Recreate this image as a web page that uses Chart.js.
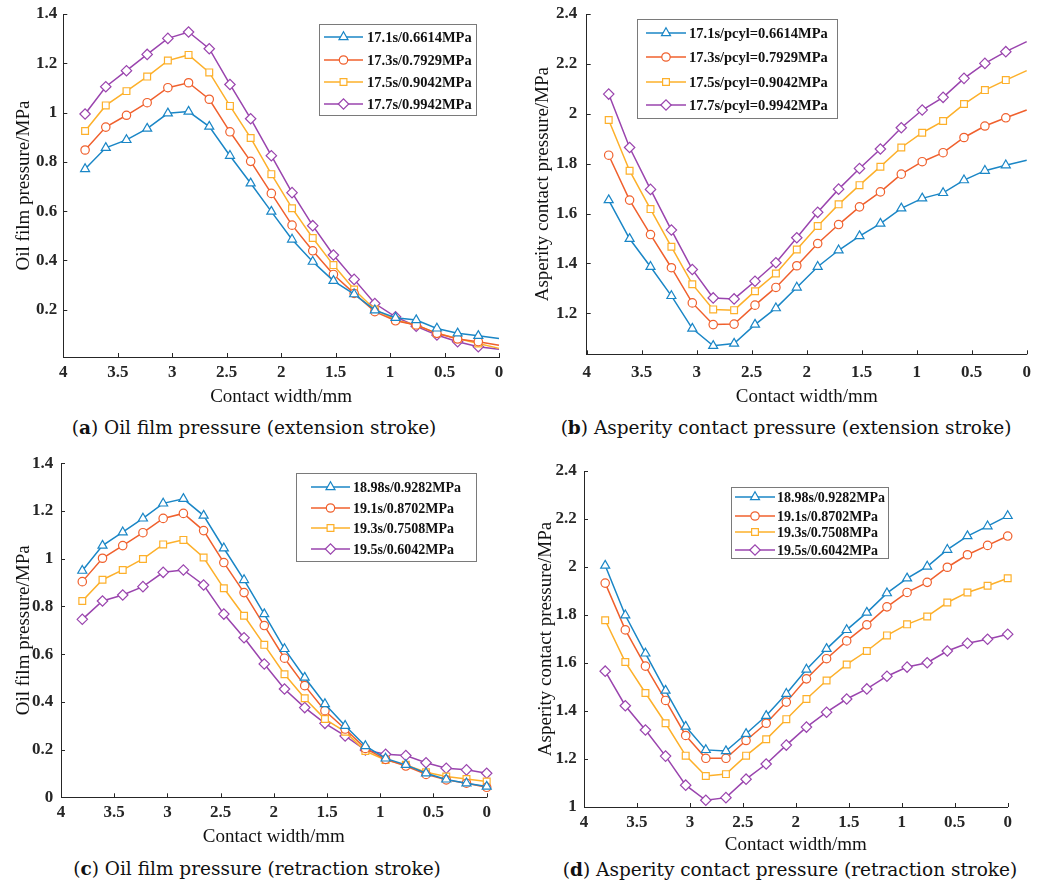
<!DOCTYPE html>
<html>
<head>
<meta charset="utf-8">
<script src="https://cdn.jsdelivr.net/npm/chart.js@4.4.1/dist/chart.umd.min.js"></script>
<style>
  html, body { margin: 0; padding: 0; background: #fff; }
  #page { position: relative; width: 1045px; height: 884px; overflow: hidden; background: #fff; }
  canvas { position: absolute; }
  .cap { position: absolute; transform: translate(-50%, -50%); white-space: nowrap;
         font-family: "DejaVu Serif", "Liberation Serif", serif; font-size: 18.5px; color: #111; }
</style>
</head>
<body>
<div id="page">
  <canvas id="pa" width="520" height="410" style="left:0px;top:0px"></canvas>
  <canvas id="pb" width="525" height="410" style="left:520px;top:0px"></canvas>
  <canvas id="pc" width="520" height="405" style="left:0px;top:445px"></canvas>
  <canvas id="pd" width="525" height="412" style="left:520px;top:445px"></canvas>
  <div class="cap" style="left:254px;top:427px">(<b>a</b>) Oil film pressure (extension stroke)</div>
  <div class="cap" style="left:786px;top:427px">(<b>b</b>) Asperity contact pressure (extension stroke)</div>
  <div class="cap" style="left:257px;top:868px">(<b>c</b>) Oil film pressure (retraction stroke)</div>
  <div class="cap" style="left:790px;top:869px">(<b>d</b>) Asperity contact pressure (retraction stroke)</div>
</div>
<script>
// Contact width positions (mm) shared by every curve
const contactWidth = [3.8, 3.61, 3.42, 3.23, 3.04, 2.85, 2.66, 2.47, 2.28, 2.09, 1.9,
                      1.71, 1.52, 1.33, 1.14, 0.95, 0.76, 0.57, 0.38, 0.19, 0];
const xTicks = [0, 0.5, 1, 1.5, 2, 2.5, 3, 3.5, 4];

// (a) Oil film pressure, extension stroke (MPa)
const extLabelsA = ['17.1s/0.6614MPa', '17.3s/0.7929MPa', '17.5s/0.9042MPa', '17.7s/0.9942MPa'];
const oilExt171 = [0.771, 0.857, 0.889, 0.935, 0.997, 1.004, 0.943, 0.825, 0.713, 0.598, 0.485,
                   0.395, 0.317, 0.263, 0.198, 0.167, 0.158, 0.124, 0.104, 0.094, 0.083];
const oilExt173 = [0.848, 0.941, 0.989, 1.040, 1.101, 1.121, 1.054, 0.922, 0.802, 0.672, 0.543,
                   0.439, 0.343, 0.266, 0.192, 0.155, 0.138, 0.104, 0.081, 0.070, 0.056];
const oilExt175 = [0.925, 1.029, 1.087, 1.146, 1.211, 1.234, 1.163, 1.027, 0.897, 0.750, 0.612,
                   0.491, 0.381, 0.282, 0.201, 0.158, 0.138, 0.104, 0.083, 0.063, 0.043];
const oilExt177 = [0.994, 1.105, 1.170, 1.236, 1.301, 1.327, 1.259, 1.114, 0.975, 0.825, 0.675,
                   0.541, 0.422, 0.323, 0.225, 0.171, 0.133, 0.097, 0.070, 0.050, 0.039];
const oilTicks = [0.2, 0.4, 0.6, 0.8, 1, 1.2, 1.4];

// (b) Asperity contact pressure, extension stroke (MPa)
const extLabelsB = ['17.1s/pcyl=0.6614MPa', '17.3s/pcyl=0.7929MPa', '17.5s/pcyl=0.9042MPa', '17.7s/pcyl=0.9942MPa'];
const aspExt171 = [1.654, 1.499, 1.387, 1.270, 1.139, 1.070, 1.079, 1.155, 1.221, 1.304, 1.387,
                   1.453, 1.510, 1.560, 1.621, 1.661, 1.683, 1.734, 1.772, 1.794, 1.814];
const aspExt173 = [1.834, 1.654, 1.516, 1.383, 1.242, 1.155, 1.157, 1.233, 1.304, 1.391, 1.480,
                   1.556, 1.627, 1.687, 1.758, 1.808, 1.844, 1.905, 1.951, 1.984, 2.015];
const aspExt175 = [1.975, 1.772, 1.618, 1.467, 1.317, 1.216, 1.213, 1.289, 1.360, 1.456, 1.550,
                   1.637, 1.714, 1.788, 1.865, 1.924, 1.971, 2.039, 2.095, 2.135, 2.173];
const aspExt177 = [2.079, 1.865, 1.697, 1.534, 1.376, 1.262, 1.258, 1.329, 1.403, 1.503, 1.605,
                   1.698, 1.781, 1.859, 1.944, 2.015, 2.066, 2.142, 2.202, 2.249, 2.289];
const aspTicksB = [1.2, 1.4, 1.6, 1.8, 2, 2.2, 2.4];

// (c) Oil film pressure, retraction stroke (MPa)
const retLabels = ['18.98s/0.9282MPa', '19.1s/0.8702MPa', '19.3s/0.7508MPa', '19.5s/0.6042MPa'];
const oilRet1898 = [0.950, 1.055, 1.111, 1.169, 1.232, 1.251, 1.181, 1.044, 0.911, 0.768, 0.622,
                    0.502, 0.391, 0.300, 0.215, 0.163, 0.136, 0.101, 0.075, 0.059, 0.045];
const oilRet191  = [0.904, 1.002, 1.055, 1.109, 1.169, 1.190, 1.118, 0.984, 0.858, 0.720, 0.583,
                    0.468, 0.363, 0.286, 0.205, 0.159, 0.131, 0.096, 0.073, 0.059, 0.042];
const oilRet193  = [0.823, 0.912, 0.953, 0.999, 1.060, 1.079, 1.005, 0.876, 0.761, 0.639, 0.516,
                    0.415, 0.328, 0.275, 0.194, 0.156, 0.136, 0.105, 0.087, 0.077, 0.066];
const oilRet195  = [0.746, 0.823, 0.848, 0.883, 0.943, 0.953, 0.890, 0.768, 0.669, 0.559, 0.454,
                    0.376, 0.310, 0.257, 0.198, 0.180, 0.175, 0.145, 0.122, 0.115, 0.101];
const oilTicksC = [0, 0.2, 0.4, 0.6, 0.8, 1, 1.2, 1.4];

// (d) Asperity contact pressure, retraction stroke (MPa)
const aspRet1898 = [2.006, 1.799, 1.640, 1.485, 1.335, 1.238, 1.233, 1.305, 1.380, 1.472, 1.573,
                    1.659, 1.738, 1.810, 1.891, 1.953, 2.002, 2.072, 2.129, 2.170, 2.213];
const aspRet191  = [1.933, 1.738, 1.587, 1.444, 1.298, 1.203, 1.203, 1.277, 1.349, 1.437, 1.534,
                    1.618, 1.692, 1.759, 1.834, 1.894, 1.936, 1.999, 2.051, 2.090, 2.129];
const aspRet193  = [1.778, 1.604, 1.475, 1.349, 1.214, 1.129, 1.137, 1.214, 1.282, 1.366, 1.450,
                    1.527, 1.594, 1.650, 1.715, 1.761, 1.794, 1.852, 1.894, 1.922, 1.953];
const aspRet195  = [1.566, 1.422, 1.321, 1.212, 1.091, 1.028, 1.039, 1.116, 1.179, 1.258, 1.333,
                    1.395, 1.450, 1.492, 1.545, 1.583, 1.601, 1.650, 1.682, 1.699, 1.720];
const aspTicksD = [1, 1.2, 1.4, 1.6, 1.8, 2, 2.2, 2.4];

// Line styles (MATLAB-like default colour order)
const COLORS = ['#1a86c6', '#f0602d', '#fdb02a', '#9a44ae'];
const MARKERS = [
  { style: 'triangle', r: 5.2 },
  { style: 'circle', r: 4.2 },
  { style: 'rect', r: 4.8 },
  { style: 'rectRot', r: 5.2 }
];
const SERIF = "'Liberation Serif', 'Times New Roman', serif";
const INK = '#262626';

// Inward-pointing tick marks along the left and bottom axes
const innerTicks = {
  id: 'innerTicks',
  beforeDatasetsDraw(chart) {
    const { ctx, chartArea: a, scales: { x, y } } = chart;
    ctx.save();
    ctx.strokeStyle = INK;
    ctx.lineWidth = 1;
    ctx.beginPath();
    x.ticks.forEach(t => {
      const px = Math.round(x.getPixelForValue(t.value)) + 0.5;
      ctx.moveTo(px, a.bottom);
      ctx.lineTo(px, a.bottom - 4);
    });
    y.ticks.forEach(t => {
      const py = Math.round(y.getPixelForValue(t.value)) + 0.5;
      ctx.moveTo(a.left, py);
      ctx.lineTo(a.left + 4, py);
    });
    ctx.stroke();
    ctx.restore();
  }
};

// Boxed legend with a line sample and marker per series
const boxedLegend = {
  id: 'boxedLegend',
  afterDraw(chart, args, o) {
    if (!o || !o.box) return;
    const ctx = chart.ctx;
    const [bx, by, bw, bh] = o.box;
    ctx.save();
    ctx.fillStyle = '#fff';
    ctx.fillRect(bx, by, bw, bh);
    ctx.strokeStyle = '#7a7a7a';
    ctx.lineWidth = 1;
    ctx.strokeRect(bx + 0.5, by + 0.5, bw, bh);
    chart.data.datasets.forEach((ds, i) => {
      const yy = o.rows[i];
      ctx.strokeStyle = ds.borderColor;
      ctx.lineWidth = 1.5;
      ctx.beginPath();
      ctx.moveTo(o.x1, yy);
      ctx.lineTo(o.x2, yy);
      ctx.stroke();
      ctx.fillStyle = '#fff';
      ctx.lineWidth = 1.2;
      Chart.helpers.drawPoint(ctx, { pointStyle: ds.pointStyle, radius: MARKERS[i].r, rotation: 0, borderWidth: 1.2 },
                              (o.x1 + o.x2) / 2, yy);
      ctx.fillStyle = '#111';
      ctx.font = 'bold ' + o.fontSize + 'px ' + SERIF;
      ctx.textBaseline = 'middle';
      ctx.textAlign = 'left';
      ctx.fillText(ds.label, o.tx, yy + 1);
    });
    ctx.restore();
  }
};

const fmt = v => String(+(+v).toFixed(1));

function makePanel(p) {
  const last = contactWidth.length - 1;
  const datasets = p.series.map((vals, i) => ({
    label: p.labels[i],
    data: contactWidth.map((xv, k) => ({ x: xv, y: vals[k] })),
    borderColor: COLORS[i],
    backgroundColor: '#ffffff',
    borderWidth: 1.5,
    pointStyle: MARKERS[i].style,
    pointRadius: contactWidth.map((_, k) => (p.skipLastMarker && k === last) ? 0 : MARKERS[i].r),
    pointBorderWidth: 1.2,
    pointBorderColor: COLORS[i],
    pointBackgroundColor: '#ffffff',
    tension: 0,
    clip: false
  }));

  return new Chart(document.getElementById(p.id), {
    type: 'line',
    data: { datasets },
    plugins: [innerTicks, boxedLegend],
    options: {
      responsive: false,
      animation: false,
      events: [],
      layout: { padding: p.pad },
      plugins: {
        legend: { display: false },
        tooltip: { enabled: false },
        boxedLegend: p.legend
      },
      scales: {
        x: {
          type: 'linear',
          reverse: true,
          min: 0,
          max: 4,
          afterBuildTicks: s => { s.ticks = xTicks.map(v => ({ value: v })); },
          afterFit: s => { s.height = p.xH; s.paddingLeft = 0; s.paddingRight = 0; },
          grid: { display: false, drawTicks: false },
          border: { display: true, color: INK, width: 1 },
          ticks: { color: INK, padding: p.xTickPad, maxRotation: 0, autoSkip: false,
                   font: { family: SERIF, size: 17, weight: 'bold' }, callback: fmt },
          title: { display: true, text: 'Contact width/mm', color: '#111',
                   font: { family: SERIF, size: 19 }, padding: { top: 0, bottom: p.xTitlePad } }
        },
        y: {
          type: 'linear',
          min: p.yMin,
          max: p.yMax,
          afterBuildTicks: s => { s.ticks = p.yTicks.map(v => ({ value: v })); },
          afterFit: s => { s.width = p.yW; s.paddingTop = 0; s.paddingBottom = 0; },
          grid: { display: false, drawTicks: false },
          border: { display: true, color: INK, width: 1 },
          ticks: { color: INK, padding: p.yTickPad, autoSkip: false,
                   font: { family: SERIF, size: 17, weight: 'bold' }, callback: fmt },
          title: { display: true, text: p.yTitle, color: '#111',
                   font: { family: SERIF, size: 19 }, padding: { top: p.yTitlePad, bottom: 0 } }
        }
      }
    }
  });
}

// (a)
makePanel({
  id: 'pa', labels: extLabelsA, series: [oilExt171, oilExt173, oilExt175, oilExt177],
  skipLastMarker: true, yMin: 0.008, yMax: 1.4, yTicks: oilTicks, yTitle: 'Oil film pressure/MPa',
  pad: { left: 0, top: 14, right: 21, bottom: 0 }, yW: 63.3, xH: 53,
  xTickPad: 5.8, xTitlePad: 1.6, yTickPad: 6, yTitlePad: 12.5,
  legend: { box: [319, 24, 157, 91], rows: [37, 60, 82, 104], x1: 324, x2: 363, tx: 367, fontSize: 14.5 }
});

// (b)
makePanel({
  id: 'pb', labels: extLabelsB, series: [aspExt171, aspExt173, aspExt175, aspExt177],
  skipLastMarker: true, yMin: 1.036, yMax: 2.4, yTicks: aspTicksB, yTitle: 'Asperity contact pressure/MPa',
  pad: { left: 0, top: 14, right: 18.3, bottom: 0 }, yW: 66.7, xH: 55.7,
  xTickPad: 8.2, xTitlePad: 1.9, yTickPad: 9.4, yTitlePad: 12,
  legend: { box: [117, 19, 200, 99], rows: [33, 57, 82, 105], x1: 126, x2: 166, tx: 169, fontSize: 14.5 }
});

// (c)
makePanel({
  id: 'pc', labels: retLabels, series: [oilRet1898, oilRet191, oilRet193, oilRet195],
  skipLastMarker: false, yMin: 0, yMax: 1.4, yTicks: oilTicksC, yTitle: 'Oil film pressure/MPa',
  pad: { left: 0, top: 18.3, right: 33.3, bottom: 0 }, yW: 61, xH: 52.7,
  xTickPad: 5.5, xTitlePad: 1.6, yTickPad: 7.7, yTitlePad: 12.5,
  legend: { box: [296, 28, 180, 88], rows: [42, 63, 83, 104], x1: 311, x2: 350, tx: 353, fontSize: 14 }
});

// (d)
makePanel({
  id: 'pd', labels: retLabels, series: [aspRet1898, aspRet191, aspRet193, aspRet195],
  skipLastMarker: false, yMin: 1, yMax: 2.4, yTicks: aspTicksD, yTitle: 'Asperity contact pressure/MPa',
  pad: { left: 0, top: 26, right: 37.3, bottom: 0 }, yW: 64, xH: 50,
  xTickPad: 5.8, xTitlePad: 0.6, yTickPad: 7.3, yTitlePad: 14.6,
  legend: { box: [211, 42, 157, 71], rows: [52, 71, 87, 105], x1: 215, x2: 255, tx: 257, fontSize: 14 }
});
</script>
</body>
</html>
